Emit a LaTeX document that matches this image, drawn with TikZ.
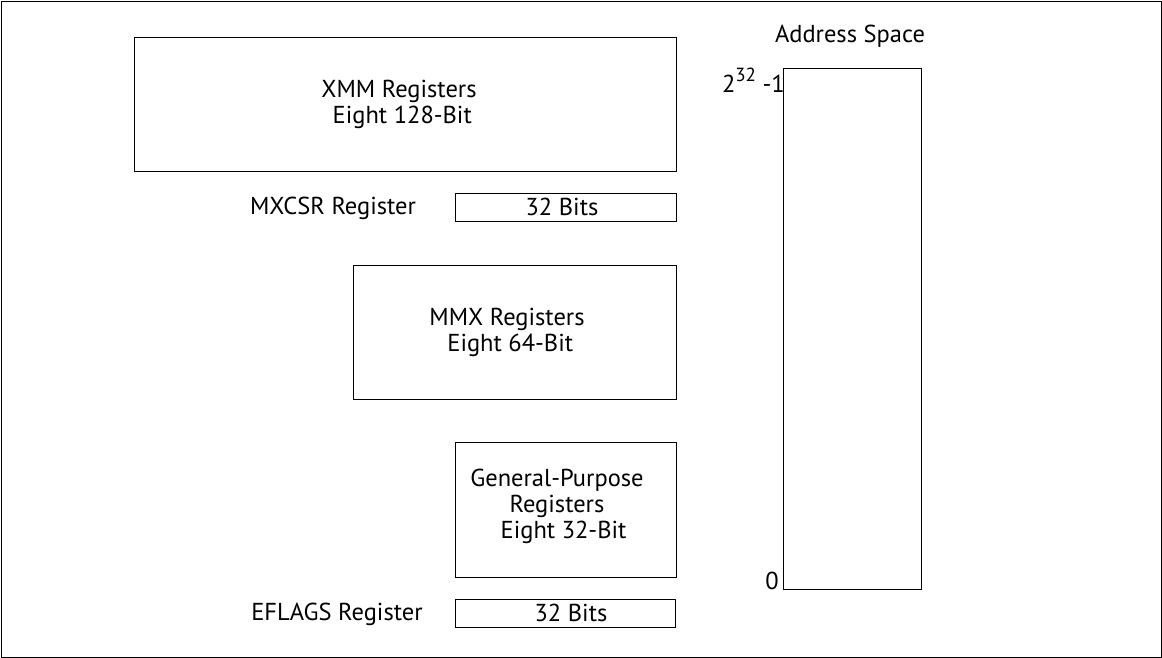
\documentclass[tikz,border=0pt]{standalone}
\usepackage{fontspec}
\setmainfont{PT Sans}
\begin{document}
\begin{tikzpicture}[x=1pt,y=-1pt,
  reg/.style={draw, line width=0.9pt, inner sep=0pt},
  lbl/.style={font=\fontsize{24.5}{26}\selectfont, align=center, inner sep=0pt}]
\useasboundingbox (0,0) rectangle (1162,658);
\draw[line width=0.9pt] (1,1) rectangle (1161,657);
% boxes
\node[reg, minimum width=542pt, minimum height=134pt, anchor=north west] (xmm) at (134,37) {};
\node[lbl] (xmmt) at (399,104) {XMM Registers\\\phantom{i}Eight 128-Bit};
\node[reg, minimum width=221pt, minimum height=28pt, anchor=north west] (mxcsr) at (455,193) {};
\node[lbl] (mxcsrb) at (562,207) {32 Bits};
\node[lbl] (mxcsrl) at (333,208) {MXCSR Register};
\node[reg, minimum width=323pt, minimum height=134pt, anchor=north west] (mmx) at (353,265) {};
\node[lbl] (mmxt) at (507,332) {MMX Registers\\\phantom{i}Eight 64-Bit};
\node[reg, minimum width=221pt, minimum height=135pt, anchor=north west] (gp) at (455,442) {};
\node[lbl] (gpt) at (557,506) {General-Purpose\\Registers\\\phantom{ii}Eight 32-Bit};
\node[reg, minimum width=220pt, minimum height=28pt, anchor=north west] (efl) at (455,599) {};
\node[lbl] (eflb) at (571,613) {32 Bits};
\node[lbl] (efll) at (337,614) {EFLAGS Register};
% address space
\node[reg, minimum width=138pt, minimum height=521pt, anchor=north west] (as) at (783,68) {};
\node[lbl] (ast) at (850,36) {Address Space};
\node[lbl, anchor=east] (top) at (785,80) {2\raisebox{0.45em}{\fontsize{19}{20}\selectfont 32} -1};
\node[lbl, anchor=east] (zero) at (779,581) {0};
\end{tikzpicture}
\end{document}
